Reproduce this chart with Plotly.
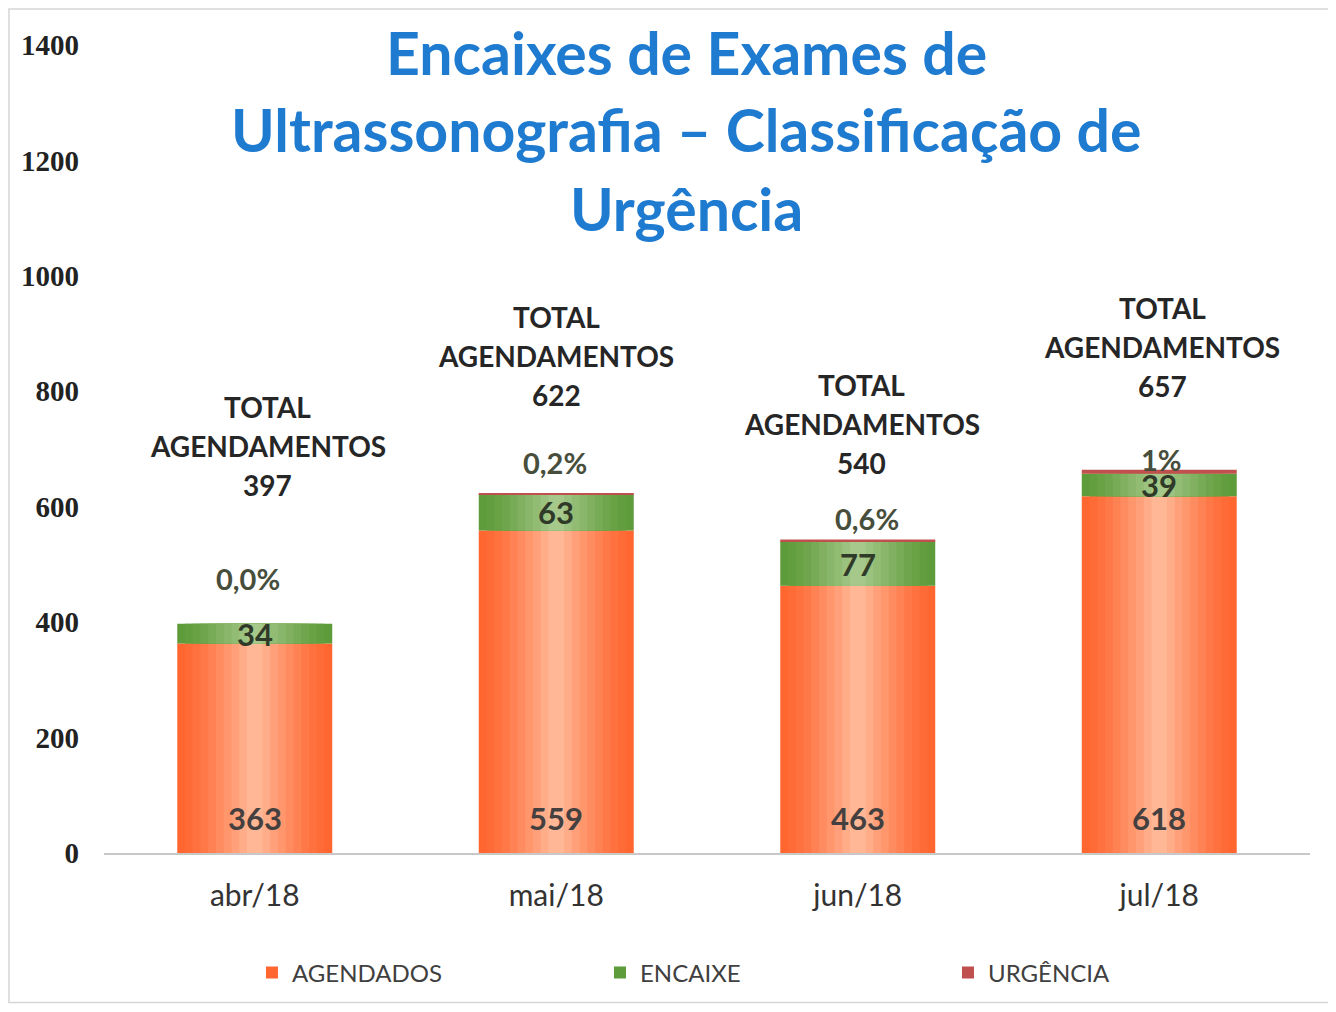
import plotly.graph_objects as go

# ---- data ----
meses = ["abr/18", "mai/18", "jun/18", "jul/18"]
agendados = [363, 559, 463, 618]
encaixe = [34, 63, 77, 39]
urgencia = [0, 1, 3, 7]
total_agendamentos = [397, 622, 540, 657]
pct_urgencia = ["0,0%", "0,2%", "0,6%", "1%"]
y_ticks = [0, 200, 400, 600, 800, 1000, 1200, 1400]

# label placement (value-axis units, manual like the original)
total_label_y = [705, 861, 743, 877]
total_label_dx = [13, 0, 4, 3]
pct_label_y = [476, 676, 580, 681]
pct_label_dx = [-7, -1, 9, 2]

BAR_W = 0.514
N_LAYERS = 10


def mix(c1, c2, t):
    a = [int(c1[i:i + 2], 16) for i in (1, 3, 5)]
    b = [int(c2[i:i + 2], 16) for i in (1, 3, 5)]
    return "#" + "".join(f"{round(x + (y - x) * t):02X}" for x, y in zip(a, b))


def layers(edge, center):
    out = []
    for k in range(N_LAYERS):
        f = 1.0 - k / N_LAYERS
        t = (k / (N_LAYERS - 1)) ** 1.3
        out.append((f, mix(edge, center, t)))
    return out


orange_layers = layers("#FF6630", "#FFB796")
green_layers = layers("#5E9B3A", "#A6C98B")
red_color = "#C0504D"

base_enc = agendados
base_urg = [a + e for a, e in zip(agendados, encaixe)]

fig = go.Figure()

for i, (f, c) in enumerate(orange_layers):
    fig.add_trace(go.Bar(x=meses, y=agendados, base=[0] * len(meses), width=BAR_W * f,
                         marker=dict(color=c, line=dict(width=0)),
                         name="AGENDADOS", showlegend=(i == 0), hoverinfo="skip" if i else None,
                         legendgroup="ag"))
for i, (f, c) in enumerate(green_layers):
    fig.add_trace(go.Bar(x=meses, y=encaixe, base=base_enc, width=BAR_W * f,
                         marker=dict(color=c, line=dict(width=0)),
                         name="ENCAIXE", showlegend=(i == 0), hoverinfo="skip" if i else None,
                         legendgroup="en"))
fig.add_trace(go.Bar(x=meses, y=urgencia, base=base_urg, width=BAR_W,
                     marker=dict(color=red_color, line=dict(width=0)),
                     name="URGÊNCIA", legendgroup="ur"))

ann = []
for i, m in enumerate(meses):
    ann.append(dict(x=m, y=0, xref="x", yref="y", text=str(agendados[i]), showarrow=False,
                    yanchor="middle", yshift=35,
                    font=dict(family="Lato", size=31, color="#454040", weight="bold")))
    ann.append(dict(x=m, y=agendados[i] + encaixe[i] / 2, xref="x", yref="y", text=str(encaixe[i]),
                    showarrow=False, yanchor="middle",
                    font=dict(family="Lato", size=31, color="#2F3A28", weight="bold")))
    ann.append(dict(x=m, y=pct_label_y[i], xref="x", yref="y", text=pct_urgencia[i], showarrow=False,
                    yanchor="middle", xshift=pct_label_dx[i],
                    font=dict(family="Lato", size=29, color="#474E3C", weight="bold")))
    for k, line in enumerate(["TOTAL", "AGENDAMENTOS", str(total_agendamentos[i])]):
        ann.append(dict(x=m, y=total_label_y[i], xref="x", yref="y", text=line, showarrow=False,
                        yanchor="middle", yshift=(1 - k) * 39, xshift=total_label_dx[i],
                        font=dict(family="Lato", size=28, color="#262626", weight="bold")))

title_lines = ["Encaixes de Exames de", "Ultrassonografia – Classificação de", "Urgência"]
title_y = [0.991, 0.895, 0.798]
for t, ty in zip(title_lines, title_y):
    ann.append(dict(x=0.4826, y=ty, xref="paper", yref="paper", text=t, showarrow=False,
                    xanchor="center", yanchor="middle",
                    font=dict(family="Lato", size=59, color="#1E7BD0", weight="bold")))

fig.update_layout(
    width=1320, height=996,
    margin=dict(l=96, r=18, t=37, b=151, autoexpand=False),
    paper_bgcolor="white", plot_bgcolor="white",
    barmode="overlay",
    annotations=ann,
    showlegend=True,
    legend=dict(orientation="h", x=0.1227, xanchor="left", y=-0.1485, yanchor="middle",
                font=dict(family="Lato", size=24, color="#404040"),
                entrywidth=303, entrywidthmode="pixels", traceorder="normal",
                bgcolor="rgba(0,0,0,0)"),
    shapes=[
        dict(type="rect", xref="paper", yref="paper", x0=-0.0788, x1=1.0158, y0=-0.1850, y1=1.0446,
             line=dict(color="#D6D6D6", width=1.5), fillcolor="rgba(0,0,0,0)", layer="below"),
    ],
)

fig.update_xaxes(showline=True, linecolor="#C8C8C8", linewidth=1.5, showgrid=False, ticks="",
                 tickfont=dict(family="Lato", size=30, color="#333333"), ticklabelstandoff=15,
                 range=[-0.5, 3.5], automargin=False)
fig.update_yaxes(range=[0, 1400], tickvals=y_ticks, ticktext=[str(v) for v in y_ticks],
                 showgrid=False, zeroline=False, showline=False, ticks="",
                 tickfont=dict(family="Liberation Serif", size=29, color="#222222", weight="bold"),
                 ticklabelstandoff=24, automargin=False)

fig.write_html("out.html")
